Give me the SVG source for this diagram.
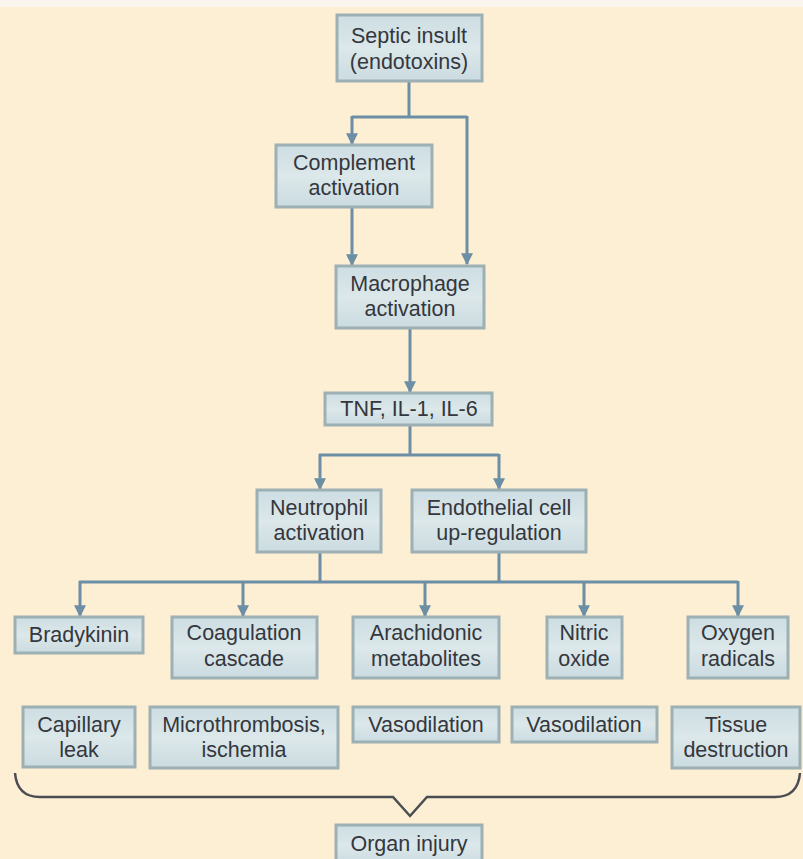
<svg xmlns="http://www.w3.org/2000/svg" width="803" height="859" viewBox="0 0 803 859">
<defs>
<marker id="ah" viewBox="0 0 10 10" refX="9" refY="5" markerWidth="4" markerHeight="4" orient="auto" markerUnits="strokeWidth">
<path d="M0,0 L10,5 L0,10 z" fill="#6d8fa6"/>
</marker>
<linearGradient id="bg" x1="0" y1="0" x2="0" y2="1">
<stop offset="0" stop-color="#cddde2"/>
<stop offset="0.5" stop-color="#dce8ea"/>
<stop offset="1" stop-color="#cbdbe0"/>
</linearGradient>
</defs>
<style>
.box{fill:url(#bg);stroke:#9db0b4;stroke-width:3}
.t{font-family:"Liberation Sans",Arial,sans-serif;font-size:21.5px;fill:#34373d;text-anchor:middle}
.c{fill:none;stroke:#6d8fa6;stroke-width:3}
.a{fill:none;stroke:#6d8fa6;stroke-width:3;marker-end:url(#ah)}
</style>
<rect width="803" height="859" fill="#fcefd4"/>
<rect width="803" height="7" fill="#faf6ee"/>
<g id="connectors">
<path class="c" d="M409,81 V117 M352,117 H467"/>
<path class="a" d="M352,116 V144"/>
<path class="a" d="M467,116 V264"/>
<path class="a" d="M352,207 V265"/>
<path class="a" d="M410,328 V392"/>
<path class="c" d="M410,424 V455 M319,455 H499"/>
<path class="a" d="M320,454 V489"/>
<path class="a" d="M499,454 V489"/>
<path class="c" d="M320,552 V582 M499,552 V582 M79,582 H738"/>
<path class="a" d="M80,581 V616"/>
<path class="a" d="M243,581 V616"/>
<path class="a" d="M425,581 V616"/>
<path class="a" d="M584,581 V616"/>
<path class="a" d="M738,581 V616"/>
<path d="M15,773 Q17,797 40,797 H393 L410,816 L427,797 H775 Q798,797 800,773" fill="none" stroke="#4a4d52" stroke-width="2.5"/>
</g>
<g id="septic"><rect class="box" x="337" y="15" width="145" height="66"/><text class="t" x="409" y="43">Septic insult</text><text class="t" x="409" y="69">(endotoxins)</text></g>
<g id="complement"><rect class="box" x="276" y="145" width="156" height="62"/><text class="t" x="354" y="170">Complement</text><text class="t" x="354" y="195">activation</text></g>
<g id="macrophage"><rect class="box" x="336" y="266" width="148" height="62"/><text class="t" x="410" y="291">Macrophage</text><text class="t" x="410" y="316">activation</text></g>
<g id="tnf"><rect class="box" x="325" y="393" width="167" height="32"/><text class="t" x="409" y="416">TNF, IL-1, IL-6</text></g>
<g id="neutrophil"><rect class="box" x="257" y="490" width="124" height="62"/><text class="t" x="319" y="515">Neutrophil</text><text class="t" x="319" y="540">activation</text></g>
<g id="endothelial"><rect class="box" x="412" y="490" width="174" height="62"/><text class="t" x="499" y="515">Endothelial cell</text><text class="t" x="499" y="540">up-regulation</text></g>
<g id="bradykinin"><rect class="box" x="15" y="617" width="128" height="36"/><text class="t" x="79" y="642">Bradykinin</text></g>
<g id="coagulation"><rect class="box" x="172" y="617" width="145" height="61"/><text class="t" x="244" y="640">Coagulation</text><text class="t" x="244" y="666">cascade</text></g>
<g id="arachidonic"><rect class="box" x="353" y="617" width="146" height="61"/><text class="t" x="426" y="640">Arachidonic</text><text class="t" x="426" y="666">metabolites</text></g>
<g id="nitric"><rect class="box" x="547" y="617" width="75" height="61"/><text class="t" x="584" y="640">Nitric</text><text class="t" x="584" y="666">oxide</text></g>
<g id="oxygen"><rect class="box" x="688" y="617" width="100" height="61"/><text class="t" x="738" y="640">Oxygen</text><text class="t" x="738" y="666">radicals</text></g>
<g id="capillary"><rect class="box" x="23" y="707" width="112" height="60"/><text class="t" x="79" y="732">Capillary</text><text class="t" x="79" y="757">leak</text></g>
<g id="microthrombosis"><rect class="box" x="150" y="707" width="188" height="61"/><text class="t" x="244" y="732">Microthrombosis,</text><text class="t" x="244" y="757">ischemia</text></g>
<g id="vasodilation1"><rect class="box" x="353" y="707" width="146" height="35"/><text class="t" x="426" y="732">Vasodilation</text></g>
<g id="vasodilation2"><rect class="box" x="512" y="707" width="145" height="35"/><text class="t" x="584" y="732">Vasodilation</text></g>
<g id="tissue"><rect class="box" x="672" y="707" width="128" height="61"/><text class="t" x="736" y="732">Tissue</text><text class="t" x="736" y="757">destruction</text></g>
<g id="organ"><rect class="box" x="336" y="825" width="146" height="40"/><text class="t" x="409" y="851">Organ injury</text></g>
</svg>
